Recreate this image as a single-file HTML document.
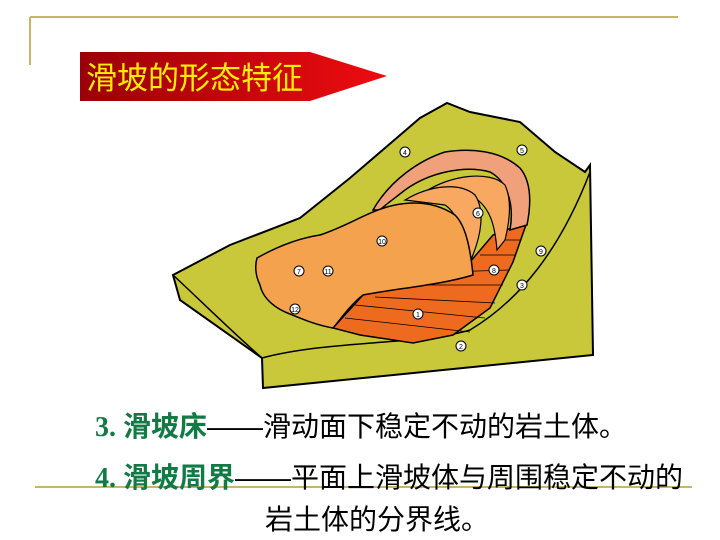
<!DOCTYPE html>
<html><head><meta charset="utf-8"><style>
body{margin:0;width:720px;height:540px;background:#fff;position:relative;overflow:hidden;font-family:"Liberation Sans","Noto Sans CJK SC",sans-serif}
.t{position:absolute;font-size:28px;white-space:nowrap;color:#000;line-height:32px;font-family:"Liberation Sans","Noto Sans CJK SC",sans-serif}
.g{color:#127a45;font-weight:bold}
</style></head><body>
<svg width="720" height="540" style="position:absolute;left:0;top:0">
<line x1="30" y1="17" x2="678" y2="17" stroke="#c8b46a" stroke-width="2"/>
<line x1="30" y1="17" x2="30" y2="65" stroke="#c8b46a" stroke-width="2"/>
<line x1="35" y1="487" x2="692" y2="487" stroke="#c8b46a" stroke-width="2"/>
<defs><linearGradient id="rg" x1="0" x2="1"><stop offset="0" stop-color="#9a0008"/><stop offset="1" stop-color="#ee0c10"/></linearGradient></defs>
<polygon points="80,52 310,52 387,76 310,101 80,101" fill="url(#rg)"/>
<text x="86" y="89" font-size="31" fill="#ffee00" font-family="Noto Sans CJK SC,sans-serif">滑坡的形态特征</text>
<polygon points="173,275 230,245 300,218 350,178 420,118 447,103 470,112 520,122 555,152 585,172 590,165 593,355 263,388 262,358 180,300" fill="#c8c83a" stroke="#000" stroke-width="2"/>
<path d="M173,275 C200,300 230,330 262,358 M262,358 C330,340 420,345 470,330 C520,300 560,250 590,172" fill="none" stroke="#000" stroke-width="1.5"/>
<polygon points="333,328 363,295 470,262 493,235 527,222 513,262 490,308 453,335 413,343 360,335" fill="#ee6a1e" stroke="#000" stroke-width="1.5"/>
<g stroke="#000" stroke-width="0.8">
<line x1="345" y1="318" x2="470" y2="332"/><line x1="355" y1="305" x2="485" y2="318"/><line x1="375" y1="297" x2="495" y2="303"/><line x1="410" y1="285" x2="503" y2="285"/><line x1="445" y1="272" x2="510" y2="270"/><line x1="480" y1="255" x2="515" y2="255"/><line x1="495" y1="240" x2="520" y2="240"/>
</g>
<path d="M373,210 C390,180 420,160 445,152 C470,148 500,150 520,168 C530,180 532,200 527,225 L510,230 C515,200 505,180 490,172 C465,165 430,172 405,190 C395,198 385,205 380,210 Z" fill="#f0a07a" stroke="#000" stroke-width="1.5"/>
<path d="M425,192 C450,175 490,170 505,185 C512,200 510,220 505,240 L497,250 C495,225 490,205 470,195 Z" fill="#f8a860" stroke="#000" stroke-width="1.2"/>
<path d="M405,200 C430,185 460,182 475,195 C485,210 482,235 470,262 L460,260 C462,235 460,215 445,205 Z" fill="#f8a860" stroke="#000" stroke-width="1.2"/>
<path d="M257,258 C280,245 300,238 320,235 C350,225 370,210 395,205 C420,200 440,205 455,215 C465,225 470,245 473,275 C440,285 400,288 363,295 C350,305 340,320 333,328 C315,325 300,318 285,312 C270,305 262,295 260,285 C255,275 255,265 257,258 Z" fill="#f5a24e" stroke="#000" stroke-width="1.5"/>
<g fill="#fff" stroke="#000" stroke-width="1">
<circle cx="405" cy="152" r="5"/><circle cx="522" cy="150" r="5"/><circle cx="478" cy="213" r="5"/><circle cx="541" cy="251" r="5"/><circle cx="382" cy="241" r="5"/><circle cx="299" cy="271" r="5"/><circle cx="328" cy="271" r="5"/><circle cx="494" cy="270" r="5"/><circle cx="522" cy="285" r="5"/><circle cx="295" cy="309" r="5"/><circle cx="418" cy="314" r="5"/><circle cx="461" cy="346" r="5"/>
</g>
<g font-size="7" font-family="Liberation Sans" text-anchor="middle" fill="#000">
<text x="405" y="155">4</text><text x="522" y="153">5</text><text x="478" y="216">6</text><text x="541" y="254">9</text><text x="382" y="244">10</text><text x="299" y="274">7</text><text x="328" y="274">11</text><text x="494" y="273">8</text><text x="522" y="288">3</text><text x="295" y="312">12</text><text x="418" y="317">1</text><text x="461" y="349">2</text>
</g>
</svg>
<div class="t" style="left:95px;top:411px"><span class="g" style="font-family:'Liberation Serif','Noto Sans CJK SC',serif">3. 滑坡床</span>——滑动面下稳定不动的岩土体。</div>
<div class="t" style="left:95px;top:462px"><span class="g" style="font-family:'Liberation Serif','Noto Sans CJK SC',serif">4. 滑坡周界</span>——平面上滑坡体与周围稳定不动的</div>
<div class="t" style="left:265px;top:504px">岩土体的分界线。</div>
</body></html>
